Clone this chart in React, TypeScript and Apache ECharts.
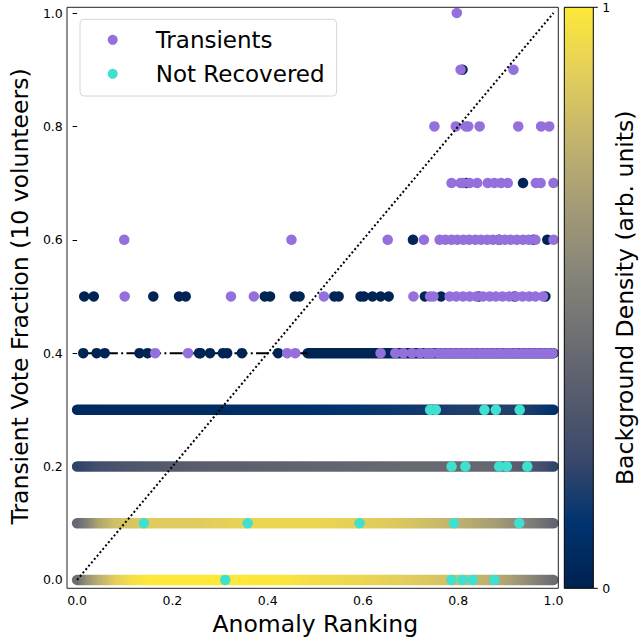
import React, { useEffect, useRef } from "react";
import * as echarts from "echarts";

const FONT = "DejaVu Sans";

// axis ticks
const xTicks = [0, 0.2, 0.4, 0.6, 0.8, 1.0];
const yTicks = [0, 0.2, 0.4, 0.6, 0.8, 1.0];
const colorbarTicks = ["0", "1"];

// cividis colormap stops
const cividisStops = ["#00224E", "#00336F", "#39486B", "#575C6D", "#707173", "#8A8779", "#A69D75", "#C4B56C", "#E4CF5B", "#FEE838"];

// dense background rows: [x, density] read along each row
const bandY = [0.0, 0.1, 0.2, 0.3, 0.4];
const bandStart = [0.0, 0.0, 0.0, 0.0, 0.484];
const bandEnd = [1.0, 1.0, 1.0, 1.0, 1.0];
const densityRow00 = [[0, 0.43], [0.02, 0.6], [0.044, 0.74], [0.078, 0.88], [0.11, 0.95], [0.15, 1.0], [0.3, 1.0], [0.42, 0.99], [0.5, 0.95], [0.6, 0.92], [0.7, 0.88], [0.8, 0.82], [0.85, 0.77], [0.9, 0.7], [0.95, 0.57], [0.98, 0.48], [1.0, 0.42]];
const densityRow01 = [[0, 0.4], [0.02, 0.52], [0.044, 0.7], [0.078, 0.82], [0.15, 0.87], [0.25, 0.87], [0.37, 0.92], [0.5, 0.92], [0.6, 0.89], [0.67, 0.86], [0.74, 0.81], [0.8, 0.76], [0.88, 0.66], [0.93, 0.56], [0.98, 0.44], [1.0, 0.38]];
const densityRow02 = [[0, 0.2], [0.044, 0.26], [0.11, 0.3], [0.25, 0.34], [0.44, 0.37], [0.6, 0.39], [0.74, 0.41], [0.88, 0.39], [0.945, 0.31], [0.985, 0.24], [1.0, 0.2]];
const densityRow03 = [[0, 0.05], [0.3, 0.07], [0.5, 0.1], [0.6, 0.12], [0.7, 0.14], [0.8, 0.17], [0.9, 0.18], [0.95, 0.16], [1.0, 0.1]];
const densityRow04 = [[0.484, 0.02], [1.0, 0.03]];

// sparse background points (x per row)
const sparseDensity = 0.02;
const bgRow09 = [0.809];
const bgRow07 = [0.817, 0.936];
const bgRow06 = [0.705, 0.886, 0.958, 0.987];
const bgRow05 = [0.015, 0.035, 0.16, 0.214, 0.228, 0.394, 0.405, 0.457, 0.467, 0.54, 0.549, 0.595, 0.602, 0.62, 0.637, 0.654, 0.73, 0.764, 0.843, 0.918, 0.983];
const bgRow04 = [0.013, 0.041, 0.058, 0.131, 0.148, 0.256, 0.259, 0.279, 0.306, 0.315, 0.346, 0.422];
const dashLineX = [0.013, 0.484];
const dashLineY = 0.4;

// Transients
const trRow10 = [0.797];
const trRow09 = [0.805, 0.916];
const trRow08 = [0.75, 0.795, 0.816, 0.821, 0.845, 0.926, 0.974, 0.991];
const trRow07 = [0.786, 0.805, 0.81, 0.824, 0.84, 0.862, 0.876, 0.89, 0.904, 0.963, 0.973, 1.0];
const trRow06 = [0.099, 0.45, 0.652, 0.728, 0.761, 0.773, 0.786, 0.798, 0.811, 0.823, 0.836, 0.848, 0.861, 0.873, 0.886, 0.898, 0.91, 0.923, 0.936, 0.948, 0.962, 1.0];
const trRow05 = [0.1, 0.323, 0.371, 0.518, 0.706, 0.741, 0.748, 0.782, 0.796, 0.81, 0.824, 0.838, 0.852, 0.866, 0.879, 0.893, 0.907, 0.921, 0.935, 0.949, 0.962, 0.978];
const trRow04 = [0.164, 0.233, 0.441, 0.458, 0.637, 0.668, 0.685, 0.703, 0.72, 0.734, 0.744, 0.758, 0.768, 0.779, 0.79, 0.801, 0.812, 0.822, 0.833, 0.845, 0.856, 0.866, 0.877, 0.888, 0.9, 0.91, 0.921, 0.933, 0.944, 0.955, 0.966, 0.977, 0.988, 0.998];

// Not Recovered
const nrRow03 = [0.741, 0.753, 0.855, 0.879, 0.929];
const nrRow02 = [0.786, 0.815, 0.886, 0.902, 0.945];
const nrRow01 = [0.14, 0.358, 0.593, 0.791, 0.928];
const nrRow00 = [0.311, 0.786, 0.809, 0.83, 0.876];

const MARK = 10.5;

function hexToRgb(h: string) {
  return [parseInt(h.slice(1, 3), 16), parseInt(h.slice(3, 5), 16), parseInt(h.slice(5, 7), 16)];
}
function cividis(t: number) {
  const v = Math.max(0, Math.min(1, t)) * (cividisStops.length - 1);
  const i = Math.min(Math.floor(v), cividisStops.length - 2);
  const f = v - i;
  const a = hexToRgb(cividisStops[i]);
  const b = hexToRgb(cividisStops[i + 1]);
  const c = a.map((x, k) => Math.round(x + (b[k] - x) * f));
  return `rgb(${c[0]},${c[1]},${c[2]})`;
}

const bandRows = [densityRow00, densityRow01, densityRow02, densityRow03, densityRow04];

function rowPoints(xs: number[], y: number, d?: number) {
  return xs.map((x) => (d === undefined ? [x, y] : [x, y, d]));
}

// frame geometry
const FR_L = 67, FR_T = 7.3, FR_R = 558.3, FR_B = 588.3;
const X0 = 71.8, X1 = 553.5, Y0 = 582.6, Y1 = 13.0;
const CB_L = 564.3, CB_R = 593.3;

export default function App() {
  const ref = useRef<HTMLDivElement>(null);
  useEffect(() => {
    const chart = echarts.init(ref.current!, null, { renderer: "svg" });

    const bandData = bandY.map((y, i) => [bandStart[i], bandEnd[i], y, i]);
    const bgData = [
      ...rowPoints(bgRow09, 0.9, sparseDensity),
      ...rowPoints(bgRow07, 0.7, sparseDensity),
      ...rowPoints(bgRow06, 0.6, sparseDensity),
      ...rowPoints(bgRow05, 0.5, sparseDensity),
      ...rowPoints(bgRow04, 0.4, sparseDensity),
    ];
    const trData = [
      ...rowPoints(trRow10, 1.0), ...rowPoints(trRow09, 0.9), ...rowPoints(trRow08, 0.8),
      ...rowPoints(trRow07, 0.7), ...rowPoints(trRow06, 0.6), ...rowPoints(trRow05, 0.5), ...rowPoints(trRow04, 0.4),
    ];
    const nrData = [...rowPoints(nrRow03, 0.3), ...rowPoints(nrRow02, 0.2), ...rowPoints(nrRow01, 0.1), ...rowPoints(nrRow00, 0.0)];

    const cbStops = cividisStops.map((c, i) => ({ offset: i / (cividisStops.length - 1), color: c }));

    const option: any = {
      animation: false,
      textStyle: { fontFamily: FONT },
      grid: { left: X0, right: 639 - X1, top: Y1, bottom: 641 - Y0, containLabel: false },
      xAxis: {
        type: "value", min: 0, max: 1, interval: 0.2, offset: FR_B - Y0,
        axisLine: { show: false },
        axisTick: { show: true, length: 4.5, lineStyle: { color: "#000", width: 1 } },
        axisLabel: { fontSize: 12.5, color: "#000", margin: 8.5, fontFamily: FONT, formatter: (v: number) => (xTicks.includes(v) ? v.toFixed(1) : "") },
        splitLine: { show: false },
        name: "Anomaly Ranking", nameLocation: "middle", nameGap: 37,
        nameTextStyle: { fontSize: 23.5, color: "#000", fontFamily: FONT, verticalAlign: "middle" },
      },
      yAxis: {
        type: "value", min: 0, max: 1, interval: 0.2, offset: X0 - FR_L,
        axisLine: { show: false },
        axisTick: { show: true, length: 4.5, lineStyle: { color: "#000", width: 1 } },
        axisLabel: { fontSize: 12.5, color: "#000", margin: 9.5, fontFamily: FONT, formatter: (v: number) => (yTicks.includes(v) ? v.toFixed(1) : "") },
        splitLine: { show: false },
        name: "Transient Vote Fraction (10 volunteers)", nameLocation: "middle", nameGap: 42,
        nameTextStyle: { fontSize: 23.5, color: "#000", fontFamily: FONT, verticalAlign: "middle" },
      },
      legend: {
        data: ["Transients", "Not Recovered"],
        orient: "vertical", left: 80, top: 19.3,
        padding: [6.5, 12, 8.2, 27.7],
        itemWidth: 10, itemHeight: 10, itemGap: 6,
        icon: "circle",
        selectedMode: false,
        borderColor: "#d6d6d6", borderWidth: 1, borderRadius: 4,
        backgroundColor: "rgba(255,255,255,0.8)",
        textStyle: { fontSize: 23, fontFamily: FONT, color: "#000", lineHeight: 28, padding: [0, 0, 0, 33] },
      },
      series: [
        {
          type: "custom", name: "background-bands", z: 1, silent: true,
          data: bandData,
          encode: { x: [0, 1], y: 2 },
          renderItem: (params: any, api: any) => {
            const idx = api.value(3);
            const y = api.value(2);
            const p0 = api.coord([api.value(0), y]);
            const p1 = api.coord([api.value(1), y]);
            const r = MARK / 2;
            const left = p0[0] - r;
            const width = p1[0] - p0[0] + 2 * r;
            const stops = bandRows[idx].map((s: number[]) => {
              const px = api.coord([s[0], y])[0];
              return { offset: Math.max(0, Math.min(1, (px - left) / width)), color: cividis(s[1]) };
            });
            return {
              type: "rect",
              shape: { x: left, y: p0[1] - r, width, height: 2 * r, r },
              style: { fill: new echarts.graphic.LinearGradient(0, 0, 1, 0, stops) },
            };
          },
        },
        {
          type: "line", name: "dashdot", z: 2, silent: true, symbol: "none",
          data: dashLineX.map((x) => [x, dashLineY]),
          lineStyle: { color: "#000", width: 2, type: [13, 3.3, 2, 3.3] },
        },
        {
          type: "scatter", name: "background", z: 3, silent: true,
          symbolSize: MARK, data: bgData,
          itemStyle: { opacity: 1, color: (p: any) => cividis(p.value[2]) },
        },
        {
          type: "scatter", name: "Not Recovered", z: 4, silent: true,
          symbolSize: MARK, data: nrData,
          itemStyle: { color: "#40E0D0", opacity: 1 },
        },
        {
          type: "scatter", name: "Transients", z: 5, silent: true,
          symbolSize: MARK, data: trData,
          itemStyle: { color: "#9370DB", opacity: 1 },
        },
        {
          type: "line", name: "diagonal", z: 6, silent: true, symbol: "none",
          data: [[0, 0], [1, 1]],
          lineStyle: { color: "#000", width: 2, type: [2, 2.4] },
        },
      ],
      graphic: [
        { type: "rect", z: 100, silent: true, shape: { x: FR_L, y: FR_T, width: FR_R - FR_L, height: FR_B - FR_T }, style: { fill: "none", stroke: "#222", lineWidth: 1 } },
        { type: "rect", z: 100, silent: true, shape: { x: CB_L, y: FR_T, width: CB_R - CB_L, height: FR_B - FR_T }, style: { fill: new echarts.graphic.LinearGradient(0, 1, 0, 0, cbStops), stroke: "#000", lineWidth: 1 } },
        { type: "line", z: 100, silent: true, shape: { x1: CB_R, y1: FR_B, x2: CB_R + 4.5, y2: FR_B }, style: { stroke: "#000", lineWidth: 1 } },
        { type: "line", z: 100, silent: true, shape: { x1: CB_R, y1: FR_T, x2: CB_R + 4.5, y2: FR_T }, style: { stroke: "#000", lineWidth: 1 } },
        { type: "text", z: 100, silent: true, x: CB_R + 9, y: FR_B, style: { text: colorbarTicks[0], fontSize: 12.5, fontFamily: FONT, fill: "#000", verticalAlign: "middle" } },
        { type: "text", z: 100, silent: true, x: CB_R + 9, y: FR_T, style: { text: colorbarTicks[1], fontSize: 12.5, fontFamily: FONT, fill: "#000", verticalAlign: "middle" } },
        { type: "text", z: 100, silent: true, x: 625, y: (FR_T + FR_B) / 2, rotation: Math.PI / 2, style: { text: "Background Density (arb. units)", fontSize: 23.5, fontFamily: FONT, fill: "#000", align: "center", verticalAlign: "middle" } },
      ],
    };
    chart.setOption(option);
    return () => chart.dispose();
  }, []);
  return <div ref={ref} style={{ position: "fixed", left: 0, top: 0, width: 639, height: 641, background: "#fff" }} />;
}
